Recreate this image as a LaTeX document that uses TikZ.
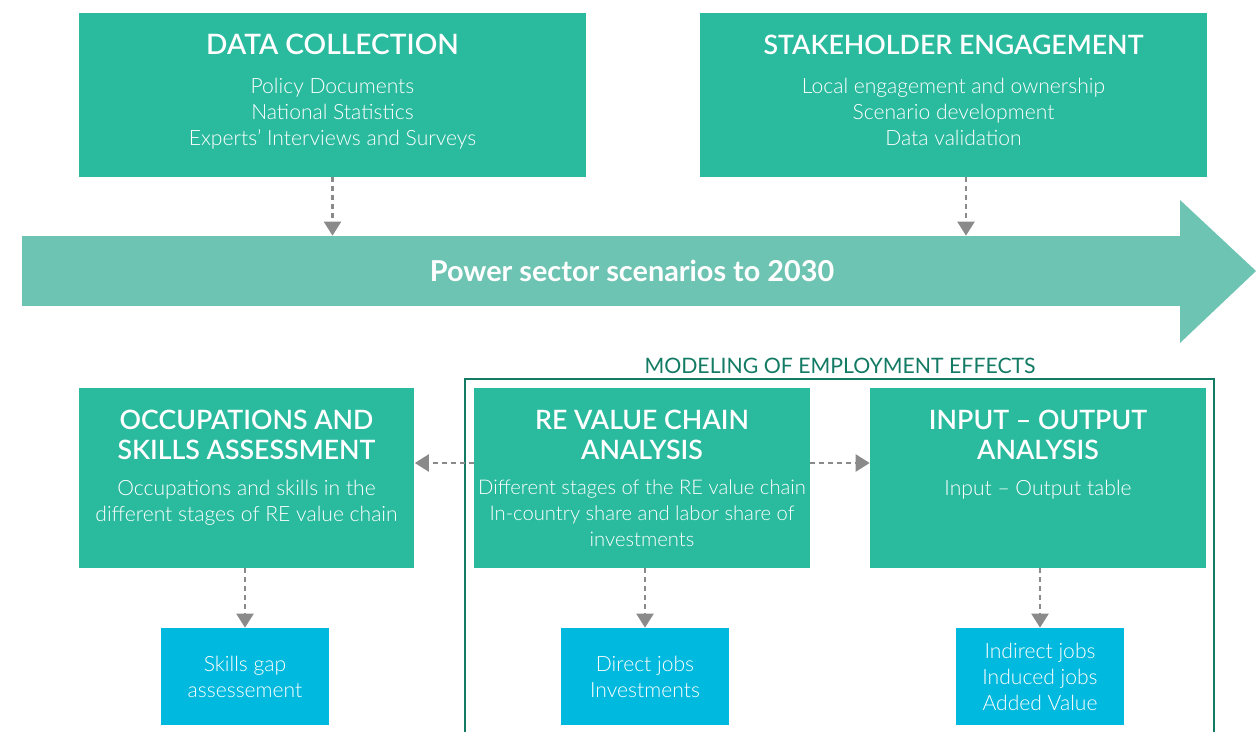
\documentclass[tikz,border=0pt]{standalone}
\usepackage{fontspec}
\setmainfont{Lato}
\newfontfamily\lightfont{Lato Light}
\newfontfamily\semifont{Lato Semibold}
\usetikzlibrary{arrows.meta,positioning}
\definecolor{boxteal}{HTML}{2ABA9E}
\definecolor{arrowteal}{HTML}{6EC4B2}
\definecolor{outblue}{HTML}{00B9DE}
\definecolor{dashgray}{HTML}{8A8A8A}
\definecolor{framegreen}{HTML}{137A64}

\begin{document}
\begin{tikzpicture}[x=0.02cm,y=-0.02cm,
  topbox/.style={fill=boxteal, minimum width=10.14cm, minimum height=3.28cm, inner sep=0},
  stagebox/.style={fill=boxteal, minimum width=6.72cm, minimum height=3.6cm, inner sep=0},
  outbox/.style={fill=outblue, minimum width=3.36cm, minimum height=1.94cm, text=white,
    font=\lightfont\fontsize{12}{14.8}\selectfont, align=center},
  titletext/.style={text=white, font=\semifont\fontsize{15.2}{17}\selectfont, align=center,
    inner sep=0, anchor=north},
  bodytext/.style={text=white, font=\lightfont\fontsize{12}{14.8}\selectfont, align=center,
    inner sep=0},
  flow/.style={dashgray, line width=1.3pt, dash pattern=on 0.1cm off 0.08cm,
    -{Triangle[width=0.34cm,length=0.28cm]}}]
\useasboundingbox (0,0) rectangle (1256,732);

% top boxes
\node[topbox] (data) at (332.5,95) {};
\node[titletext, font=\semifont\fontsize{16}{17}\selectfont] (datat) at ([yshift=-0.43cm]data.north) {DATA COLLECTION};
\node[bodytext, below=0.45cm of datat] (datab) {Policy Documents\\National Statistics\\Experts’ Interviews and Surveys};

\node[topbox] (stake) at (953.5,95) {};
\node[titletext] (staket) at ([yshift=-0.44cm]stake.north) {STAKEHOLDER ENGAGEMENT};
\node[bodytext, below=0.46cm of staket] (stakeb) {Local engagement and ownership\\Scenario development\\Data validation};

% scenario arrow
\node[fill=arrowteal, minimum width=23.18cm, minimum height=1.4cm, inner sep=0] (scenbody) at (601.5,271) {};
\fill[arrowteal] (1180,200) -- (1256,271) -- (1180,343) -- cycle;
\node[text=white, font=\bfseries\fontsize{16.4}{18}\selectfont] (scentext) at (632,271) {Power sector scenarios to 2030};

% modeling frame
\node[text=framegreen, font=\fontsize{12.1}{14}\selectfont] (modlabel) at (840,366) {MODELING OF EMPLOYMENT EFFECTS};
\draw[framegreen, line width=1.2pt] (465,740) -- (465,379) -- (1214,379) -- (1214,740);

% stage boxes
\node[stagebox] (occ) at (246.5,478) {};
\node[titletext] (occt) at ([yshift=-0.44cm]occ.north) {OCCUPATIONS AND\\SKILLS ASSESSMENT};
\node[bodytext, below=0.4cm of occt] (occb) {Occupations and skills in the\\different stages of RE value chain};

\node[stagebox] (reb) at (642,478) {};
\node[titletext] (rebt) at ([yshift=-0.44cm]reb.north) {RE VALUE CHAIN\\ANALYSIS};
\node[bodytext, below=0.4cm of rebt, font=\lightfont\fontsize{11.5}{14.8}\selectfont] (rebb) {Different stages of the RE value chain\\In-country share and labor share of\\investments};

\node[stagebox] (io) at (1038,478) {};
\node[titletext] (iot) at ([yshift=-0.44cm]io.north) {INPUT – OUTPUT\\ANALYSIS};
\node[bodytext, below=0.4cm of iot] (iob) {Input – Output table};

% results
\node[outbox] (skills) at (245,676.5) {Skills gap\\assessement};
\node[outbox] (direct) at (645,676.5) {Direct jobs\\Investments};
\node[outbox] (indirect) at (1040,676.5) {Indirect jobs\\Induced jobs\\Added Value};

% connectors
\draw[flow] (data.south) -- (data.south |- scenbody.north);
\draw[flow] ([xshift=0.25cm]stake.south) -- ([xshift=0.25cm]stake.south |- scenbody.north);
\draw[flow] ([yshift=0.3cm]reb.west) -- ([yshift=0.3cm]occ.east);
\draw[flow] ([yshift=0.3cm]reb.east) -- ([yshift=0.3cm]io.west);
\draw[flow] (skills.north |- occ.south) -- (skills.north);
\draw[flow] (direct.north |- reb.south) -- (direct.north);
\draw[flow] (indirect.north |- io.south) -- (indirect.north);
\end{tikzpicture}
\end{document}
